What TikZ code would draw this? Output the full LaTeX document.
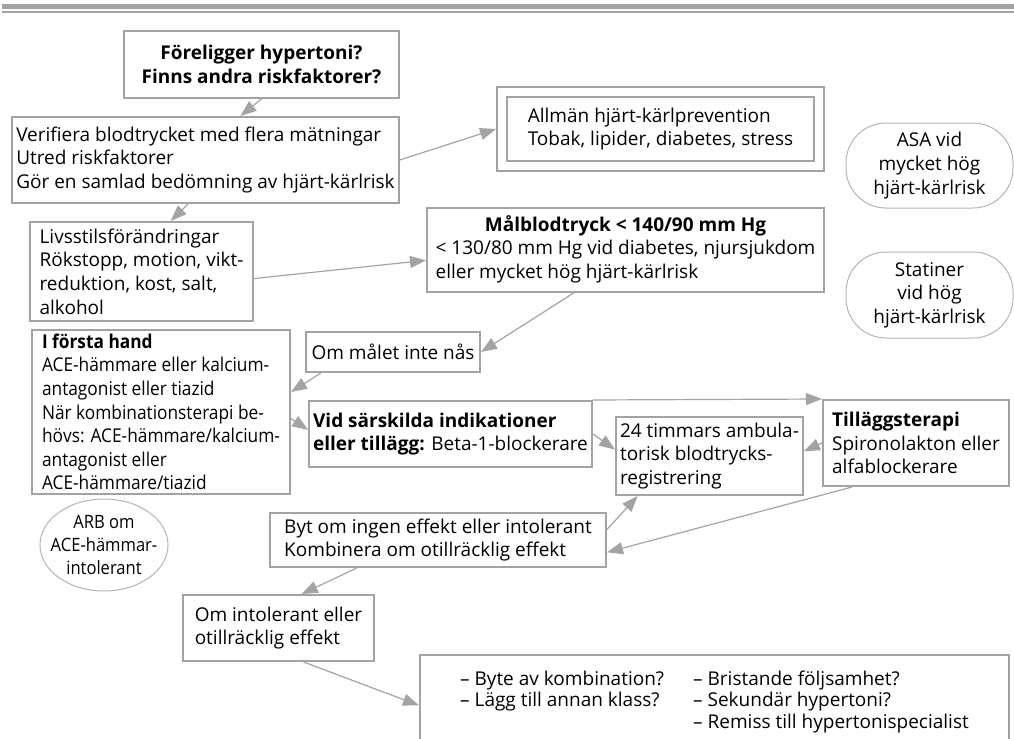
\documentclass[tikz,border=0pt]{standalone}
\usepackage{fontspec}
\setmainfont{Open Sans}
\usetikzlibrary{arrows.meta,calc,shapes.geometric}
\definecolor{hbpgray}{HTML}{A3A3A3}
\definecolor{hbplight}{HTML}{B4B4B4}
\newcommand{\hbpfont}{\fontsize{9.5}{11.8}\selectfont}
\newcommand{\hbpnarrow}{\fontsize{9.5}{11.8}\selectfont\addfontfeature{FakeStretch=0.91}}
\newcommand{\hbpoval}{\fontsize{9.2}{11.6}\selectfont\addfontfeature{FakeStretch=0.9}}

\begin{document}
\begin{tikzpicture}[x=0.5pt, y=-0.5pt,
  box/.style={draw=hbpgray, line width=1pt, fill=white, font=\hbpfont, align=left, inner sep=2pt},
  oval/.style={draw=hbplight, line width=0.5pt, font=\hbpfont, align=center, inner sep=0pt},
  arr/.style={-{Triangle[length=8pt, width=6pt]}, color=hbpgray, line width=0.6pt}
]
  \useasboundingbox (0,0) rectangle (1014,739);
  \clip (0,0) rectangle (1014,739);
  \fill[hbpgray] (2,4) rectangle (1014,9);
  \fill[hbpgray] (2,11) rectangle (1014,12.5);

  \node[box, font=\hbpfont\bfseries, align=center, minimum width=137.5pt, minimum height=33.5pt] (ask) at (261.5,64.5) {Föreligger hypertoni?\\Finns andra riskfaktorer?};
  \node[box, minimum width=192.5pt, minimum height=43pt] (verif) at (205.5,160) {Verifiera blodtrycket med flera mätningar\\Utred riskfaktorer\\Gör en samlad bedömning av hjärt-kärlrisk};
  \node[box, double=white, double distance=4pt, outer sep=3pt, minimum width=158.5pt, minimum height=37pt] (prev) at (660.5,129) {Allmän hjärt-kärlprevention\\Tobak, lipider, diabetes, stress};
  \node[oval, rounded corners=20pt, minimum width=83.5pt, minimum height=42.5pt] (asa) at (929.5,165.5) {ASA vid\\mycket hög\\hjärt-kärlrisk};
  \node[box, minimum width=111.5pt, minimum height=49.5pt] (life) at (141.5,271.5) {Livsstilsförändringar\\Rökstopp, motion, vikt-\\reduktion, kost, salt,\\alkohol};
  \node[box, minimum width=198.5pt, minimum height=42pt] (goal) at (625.5,250) {\begin{tabular}{@{}l@{}}\multicolumn{1}{@{}c@{}}{\bfseries Målblodtryck < 140/90 mm Hg}\\< 130/80 mm Hg vid diabetes, njursjukdom\\eller mycket hög hjärt-kärlrisk\end{tabular}};
  \node[oval, rounded corners=20pt, minimum width=83.5pt, minimum height=43pt] (stat) at (929.5,295) {Statiner\\vid hög\\hjärt-kärlrisk};
  \node[box, font=\hbpnarrow, inner xsep=1.5pt, minimum width=129pt, minimum height=80pt] (first) at (161,412) {\textbf{I första hand}\\ACE-hämmare eller kalcium-\\antagonist eller tiazid\\När kombinationsterapi be-\\hövs: ACE-hämmare/kalcium-\\antagonist eller\\ACE-hämmare/tiazid};
  \node[box, minimum width=87pt, minimum height=20pt] (notmet) at (393,352) {Om målet inte nås};
  \node[box, minimum width=138.5pt, minimum height=33pt] (vid) at (450.5,434) {\textbf{Vid särskilda indikationer}\\\textbf{eller tillägg:} Beta-1-blockerare};
  \node[box, minimum width=90.5pt, minimum height=39pt] (amb) at (709.5,456) {24 timmars ambula-\\torisk blodtrycks-\\registrering};
  \node[box, minimum width=93pt, minimum height=43pt] (add) at (916,443) {\textbf{Tilläggsterapi}\\Spironolakton eller\\alfablockerare};
  \node[box, minimum width=168pt, minimum height=27pt] (byt) at (438,540) {Byt om ingen effekt eller intolerant\\Kombinera om otillräcklig effekt};
  \node[oval, ellipse, font=\hbpoval, inner sep=-12pt, minimum width=64pt, minimum height=46pt] (arb) at (104,545) {ARB om\\ACE-hämmar-\\intolerant};
  \node[box, minimum width=95.5pt, minimum height=33pt] (omint) at (278.5,628) {Om intolerant eller\\otillräcklig effekt};
  \node[box, minimum width=294.5pt, minimum height=47.5pt] (check) at (714.5,702.5) {\renewcommand{\arraystretch}{0.92}\begin{tabular}{@{}p{104.5pt}l@{}}– Byte av kombination? & – Bristande följsamhet?\\– Lägg till annan klass? & – Sekundär hypertoni?\\ & – Remiss till hypertonispecialist\end{tabular}};

  \draw[arr] (ask.south) -- ($(verif.north west)!.59!(verif.north east)$);
  \draw[arr] (verif.east) -- (prev.west);
  \draw[arr] ($(verif.south west)!.455!(verif.south east)$) -- ($(life.north west)!.63!(life.north east)$);
  \draw[arr] ($(life.north east)!.57!(life.south east)$) -- ($(goal.north west)!.62!(goal.south west)$);
  \draw[arr] ($(goal.south west)!.37!(goal.south east)$) -- (notmet.east);
  \draw[arr] ($(notmet.south west)!.09!(notmet.south east)$) -- ($(first.north east)!.38!(first.south east)$);
  \draw[arr] ($(first.north east)!.54!(first.south east)$) -- ($(vid.north west)!.44!(vid.south west)$);
  \draw[arr] (vid.north east) -- (add.north west);
  \draw[arr] (vid.east) -- ($(amb.north west)!.42!(amb.south west)$);
  \draw[arr] (add.west) -- ($(amb.north east)!.44!(amb.south east)$);
  \draw[arr] ($(byt.north east)!.31!(byt.south east)$) -- ($(amb.south west)!.12!(amb.south east)$);
  \draw[arr] ($(add.south west)!.16!(add.south east)$) -- ($(byt.north east)!.72!(byt.south east)$);
  \draw[arr] ($(byt.south west)!.26!(byt.south east)$) -- ($(omint.north west)!.62!(omint.north east)$);
  \draw[arr] ($(omint.south west)!.63!(omint.south east)$) -- ($(check.north west)!.53!(check.south west)$);
\end{tikzpicture}
\end{document}
